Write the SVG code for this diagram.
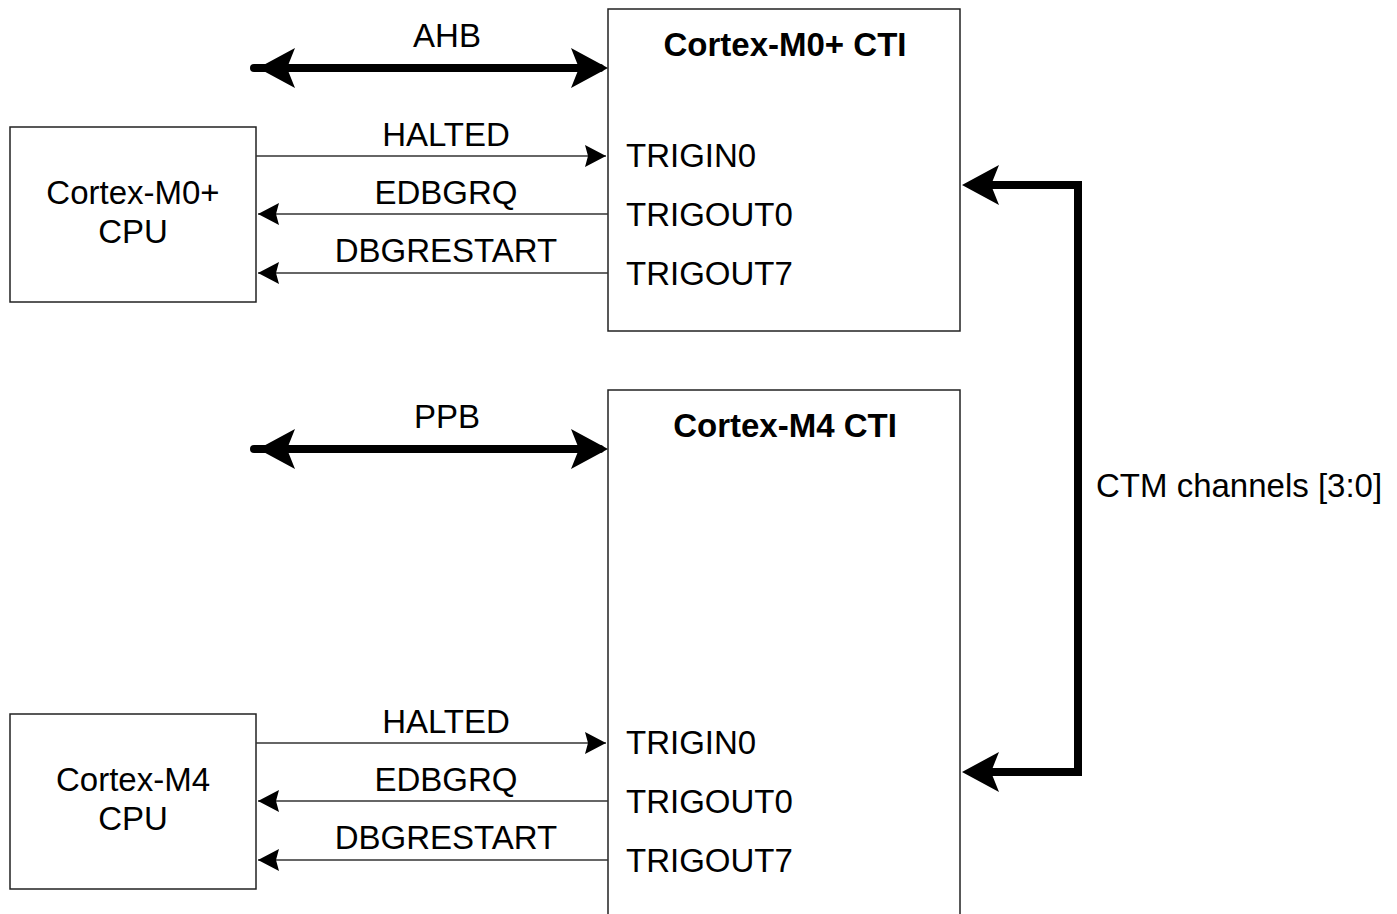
<svg xmlns="http://www.w3.org/2000/svg" width="1397" height="914" viewBox="0 0 1397 914">
<defs>
<style>
.box{fill:#fff;stroke:#222;stroke-width:1.5}
.t{font-family:"Liberation Sans",Arial,sans-serif;font-size:33px;fill:#000}
.c{text-anchor:middle}
.b{font-weight:bold}
.thin{stroke:#333;stroke-width:1.5;fill:none}
.bus{stroke:#000;stroke-width:8;fill:none;stroke-linejoin:miter}
</style>
<marker id="ah" viewBox="-23 -12 25 24" markerUnits="userSpaceOnUse" markerWidth="25" markerHeight="24" refX="0" refY="0" orient="auto-start-reverse">
<path d="M0,0 L-21,-11 L-18,0 L-21,11 Z" fill="#000"/>
</marker>
</defs>
<g id="cpu-m0">
<rect class="box" x="10" y="127" width="246" height="175"/>
<text class="t c" x="133" y="204">Cortex-M0+</text>
<text class="t c" x="133" y="243">CPU</text>
</g>
<g id="cti-m0">
<rect class="box" x="608" y="9" width="352" height="322"/>
<text class="t c b" x="785" y="56">Cortex-M0+ CTI</text>
<text class="t" x="626" y="167">TRIGIN0</text>
<text class="t" x="626" y="226">TRIGOUT0</text>
<text class="t" x="626" y="285">TRIGOUT7</text>
</g>
<g id="cti-m4">
<rect class="box" x="608" y="390" width="352" height="600"/>
<text class="t c b" x="785" y="437">Cortex-M4 CTI</text>
<text class="t" x="626" y="754">TRIGIN0</text>
<text class="t" x="626" y="813">TRIGOUT0</text>
<text class="t" x="626" y="872">TRIGOUT7</text>
</g>
<g id="cpu-m4">
<rect class="box" x="10" y="714" width="246" height="175"/>
<text class="t c" x="133" y="791">Cortex-M4</text>
<text class="t c" x="133" y="830">CPU</text>
</g>
<g id="connectors">
<line x1="254" y1="68" x2="600" y2="68" stroke="#000" stroke-width="8" stroke-linecap="round"/>
<path d="M608,68 L571,48 L579,68 L571,88 Z M258,68 L295,48 L287,68 L295,88 Z" fill="#000"/>
<text class="t c" x="447" y="47">AHB</text>
<line x1="254" y1="449" x2="600" y2="449" stroke="#000" stroke-width="8" stroke-linecap="round"/>
<path d="M608,449 L571,429 L579,449 L571,469 Z M258,449 L295,429 L287,449 L295,469 Z" fill="#000"/>
<text class="t c" x="447" y="428">PPB</text>

<line class="thin" x1="256" y1="156" x2="606" y2="156" marker-end="url(#ah)"/>
<text class="t c" x="446" y="146">HALTED</text>
<line class="thin" x1="608" y1="214" x2="258" y2="214" marker-end="url(#ah)"/>
<text class="t c" x="446" y="204">EDBGRQ</text>
<line class="thin" x1="608" y1="273" x2="258" y2="273" marker-end="url(#ah)"/>
<text class="t c" x="446" y="262">DBGRESTART</text>

<line class="thin" x1="256" y1="743" x2="606" y2="743" marker-end="url(#ah)"/>
<text class="t c" x="446" y="733">HALTED</text>
<line class="thin" x1="608" y1="801" x2="258" y2="801" marker-end="url(#ah)"/>
<text class="t c" x="446" y="791">EDBGRQ</text>
<line class="thin" x1="608" y1="860" x2="258" y2="860" marker-end="url(#ah)"/>
<text class="t c" x="446" y="849">DBGRESTART</text>

<path class="bus" d="M990,185 L1078,185 L1078,772 L990,772"/>
<path d="M962,185 L999,165 L991,185 L999,205 Z M962,772 L999,752 L991,772 L999,792 Z" fill="#000"/>
<text class="t" x="1096" y="497">CTM channels [3:0]</text>
</g>
</svg>
